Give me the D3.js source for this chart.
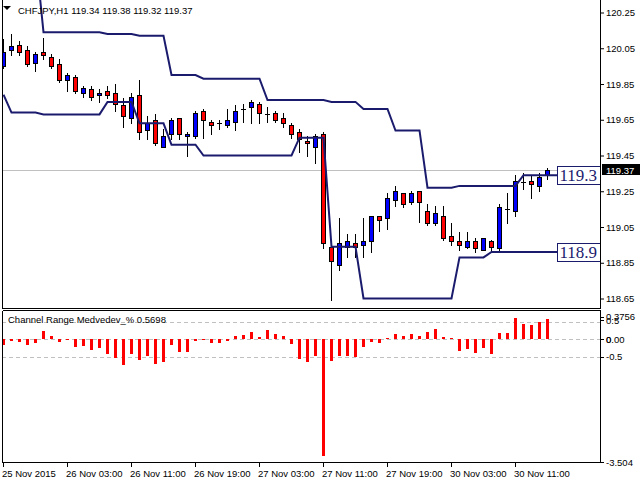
<!DOCTYPE html>
<html><head><meta charset="utf-8">
<script src="https://cdn.jsdelivr.net/npm/d3@7/dist/d3.min.js"></script>
<style>
html,body{margin:0;padding:0;background:#fff;}
svg{display:block;}
text{font-family:"Liberation Sans",Arial,sans-serif;font-size:9.5px;fill:#000;}
</style></head><body>
<svg id="c" width="640" height="480"></svg>
<script>
// ---------- data ----------
const symbol = "CHFJPY,H1";
const opens  = [119.95,120.04,120.07,120.04,119.97,120.03,120.00,119.96,119.87,119.89,119.80,119.82,119.79,119.81,119.80,119.73,119.66,119.79,119.59,119.65,119.50,119.57,119.66,119.56,119.56,119.70,119.64,119.63,119.62,119.64,119.71,119.72,119.74,119.68,119.69,119.66,119.62,119.58,119.53,119.50,119.57,118.94,118.84,118.94,118.96,118.95,118.97,119.11,119.10,119.20,119.24,119.19,119.25,119.14,119.07,119.11,119.00,118.97,118.94,118.97,118.92,118.97,118.93,119.15,119.14,119.30,119.31,119.28,119.34];
const highs  = [120.10,120.13,120.09,120.06,120.03,120.11,120.02,119.99,119.91,119.90,119.84,119.84,119.82,119.84,119.85,119.77,119.80,119.87,119.67,119.68,119.60,119.66,119.66,119.58,119.70,119.71,119.65,119.65,119.71,119.73,119.74,119.76,119.75,119.72,119.70,119.69,119.63,119.60,119.56,119.57,119.58,118.94,119.10,119.01,119.01,119.10,119.11,119.11,119.24,119.28,119.24,119.25,119.25,119.18,119.17,119.17,119.07,119.02,119.02,118.99,118.99,118.98,119.18,119.24,119.34,119.35,119.34,119.35,119.38];
const lows   = [119.94,120.01,120.01,119.95,119.92,119.99,119.94,119.86,119.81,119.80,119.78,119.76,119.75,119.77,119.70,119.61,119.63,119.54,119.54,119.51,119.50,119.54,119.54,119.45,119.55,119.55,119.57,119.60,119.61,119.59,119.64,119.63,119.63,119.64,119.64,119.61,119.55,119.47,119.45,119.41,118.93,118.64,118.81,118.88,118.88,118.88,118.91,119.03,119.04,119.17,119.16,119.18,119.08,119.06,119.06,118.98,118.95,118.92,118.93,118.91,118.92,118.91,118.92,119.07,119.11,119.26,119.21,119.25,119.32];
const closes = [120.03,120.06,120.03,119.96,120.02,120.01,119.95,119.87,119.90,119.81,119.83,119.78,119.80,119.79,119.74,119.67,119.78,119.58,119.63,119.52,119.56,119.65,119.57,119.57,119.69,119.65,119.62,119.63,119.65,119.70,119.71,119.75,119.69,119.68,119.65,119.63,119.57,119.54,119.52,119.56,118.96,118.86,118.96,118.97,118.94,118.97,119.11,119.09,119.21,119.25,119.18,119.24,119.19,119.07,119.13,118.99,118.97,118.95,118.97,118.93,118.99,118.94,119.16,119.15,119.31,119.30,119.29,119.33,119.37];
const upperChannel = [120.58,120.58,120.58,120.58,120.58,120.14,120.14,120.14,120.14,120.14,120.14,120.14,120.14,120.13,120.13,120.13,120.13,120.12,120.12,120.12,120.12,119.90,119.90,119.90,119.90,119.88,119.88,119.88,119.88,119.88,119.88,119.88,119.88,119.76,119.76,119.76,119.76,119.76,119.76,119.76,119.76,119.75,119.75,119.75,119.75,119.71,119.71,119.71,119.71,119.59,119.59,119.59,119.59,119.27,119.27,119.27,119.27,119.28,119.28,119.28,119.28,119.28,119.28,119.28,119.28,119.34,119.34,119.34,119.34];
const lowerChannel = [119.79,119.69,119.69,119.69,119.69,119.68,119.68,119.68,119.68,119.68,119.68,119.68,119.68,119.75,119.75,119.75,119.75,119.63,119.63,119.63,119.63,119.51,119.51,119.51,119.51,119.45,119.45,119.45,119.45,119.45,119.45,119.45,119.45,119.45,119.45,119.45,119.45,119.55,119.55,119.55,119.55,118.94,118.94,118.94,118.94,118.65,118.65,118.65,118.65,118.65,118.65,118.65,118.65,118.65,118.65,118.65,118.65,118.88,118.88,118.88,118.88,118.91,118.91,118.91,118.91,118.91,118.91,118.91,118.91];
const rangePct = [-0.15,-0.04,-0.09,-0.16,-0.10,0.23,0.10,-0.09,-0.02,-0.22,-0.20,-0.30,-0.25,-0.42,-0.54,-0.74,-0.42,-0.59,-0.47,-0.70,-0.65,-0.15,-0.36,-0.36,-0.04,-0.03,-0.10,-0.10,-0.04,0.10,0.13,0.21,0.07,0.27,0.15,0.10,-0.13,-0.56,-0.64,-0.48,-3.32,-0.61,-0.48,-0.48,-0.50,-0.21,-0.07,-0.10,0.04,0.15,0.10,0.15,0.10,0.21,0.30,0.07,0.04,-0.32,-0.27,-0.38,-0.24,-0.41,0.18,0.18,0.61,0.44,0.41,0.50,0.5698];
const timeLabels = ["25 Nov 2015","26 Nov 03:00","26 Nov 11:00","26 Nov 19:00","27 Nov 03:00","27 Nov 11:00","27 Nov 19:00","30 Nov 03:00","30 Nov 11:00"];
const timeLabelBars = [0,8,16,24,32,40,48,56,64];
const priceTicks = [120.25,120.05,119.85,119.65,119.45,119.25,119.05,118.85,118.65];
const indicatorName = "Channel Range Medvedev_%";
const indicatorLevels = [0.5,0,-0.5];
const indicatorMax = 0.8756, indicatorMin = -3.504;
const indicatorAxisLabels = [["0.3756",0.64],["0.5",0.54],["0.00",0],["0",0],["-0.5",-0.5],["-3.504",-3.504]];
const channelLabels = ["119.3","118.9"];

// ---------- layout ----------
const svg = d3.select("#c");
const L = 2, R = 600, mainTop = 0, mainBot = 308, indTop = 310, indBot = 462;
const navy = "#1b1b6e";
const n = closes.length;
const x = d3.scaleLinear().domain([0, n - 1]).range([3, 3 + 8 * (n - 1)]);
const y = d3.scaleLinear().domain([118.65, 120.25]).range([298.5, 12.5]);
const yi = d3.scaleLinear().domain([indicatorMin, indicatorMax]).range([indBot, indTop - 1.3]);
const px = k => Math.round(x(k));
const py = v => Math.round(y(v));

const defs = svg.append("defs");
defs.append("clipPath").attr("id","cm").append("rect").attr("x",L+1).attr("y",mainTop).attr("width",R-L-1).attr("height",mainBot-mainTop);
defs.append("clipPath").attr("id","ci").append("rect").attr("x",L+1).attr("y",indTop+1).attr("width",R-L-1).attr("height",indBot-indTop-1);

// ---------- main panel ----------
const gm = svg.append("g").attr("clip-path","url(#cm)");
const lastClose = closes[n-1];
gm.append("line").attr("x1",L).attr("x2",R).attr("y1",py(lastClose)+0.5).attr("y2",py(lastClose)+0.5)
  .attr("stroke","#c0c0c0").attr("stroke-width",1);

const candles = gm.append("g").attr("shape-rendering","crispEdges");
d3.range(n).forEach(k => {
  const cx = px(k), o = opens[k], c = closes[k];
  candles.append("line").attr("x1",cx+0.5).attr("x2",cx+0.5)
    .attr("y1",py(highs[k])).attr("y2",py(lows[k])+1).attr("stroke","#000");
  const top = py(Math.max(o,c)), bot = py(Math.min(o,c));
  if (bot - top < 1) {
    candles.append("line").attr("x1",cx-2).attr("x2",cx+3).attr("y1",top+0.5).attr("y2",top+0.5).attr("stroke","#000");
  } else {
    candles.append("rect").attr("x",cx-2+0.5).attr("y",top+0.5).attr("width",4).attr("height",bot-top)
      .attr("fill", c > o ? "#0000ff" : "#ff0000").attr("stroke","#000");
  }
});

const line = d3.line().x(d=>d[0]).y(d=>d[1]);
[upperChannel, lowerChannel].forEach((arr, i) => {
  const pts = arr.map((v,k)=>[x(k)+0.5, y(v)]);
  pts.push([557, y(arr[n-1])]);
  gm.append("path").attr("d", line(pts)).attr("fill","none").attr("stroke",navy).attr("stroke-width",2);
  const yc = Math.round(y(arr[n-1]));
  gm.append("rect").attr("x",557.5).attr("y",yc-9+0.5).attr("width",60).attr("height",18)
    .attr("fill","#fff").attr("stroke",navy).attr("stroke-width",1);
  gm.append("text").attr("x",559.5).attr("y",yc+6).text(channelLabels[i])
    .style("font-family","'Liberation Serif','Times New Roman',serif").style("font-size","17px").style("fill",navy);
});

// title
svg.append("path").attr("d","M3,6 L11,6 L7,10 Z").attr("fill","#000");
svg.append("text").attr("x",18).attr("y",14)
  .text(symbol + "  " + [opens[n-1],highs[n-1],lows[n-1],closes[n-1]].map(v=>v.toFixed(2)).join(" "));

// ---------- indicator panel ----------
const gi = svg.append("g").attr("clip-path","url(#ci)");
indicatorLevels.forEach(v => {
  gi.append("line").attr("x1",L).attr("x2",R).attr("y1",Math.round(yi(v))+0.5).attr("y2",Math.round(yi(v))+0.5)
    .attr("stroke","#c0c0c0").attr("stroke-dasharray","4,3");
});
const z0 = Math.round(yi(0));
gi.append("g").attr("shape-rendering","crispEdges").selectAll("rect").data(rangePct).join("rect")
  .attr("x",(d,k)=>px(k)-1).attr("width",3)
  .attr("y",d=> d>=0 ? Math.round(yi(d)) : z0)
  .attr("height",d=> Math.max(1, Math.abs(Math.round(yi(d)) - z0)))
  .attr("fill","#ff0000");
svg.append("text").attr("x",8).attr("y",323).text(indicatorName + " " + rangePct[n-1].toFixed(4));

// ---------- frames ----------
const fr = svg.append("g").attr("stroke","#000").attr("shape-rendering","crispEdges").attr("fill","none");
fr.append("path").attr("d",`M${L+0.5},${mainTop} V${mainBot+0.5} H${R+0.5} V${mainTop}`);
fr.append("path").attr("d",`M${L+0.5},${indTop+0.5} V${indBot+0.5} H${R+0.5} V${indTop+0.5} H${L+0.5}`);

// ---------- right axes ----------
const ax = svg.append("g").attr("transform",`translate(${R+1},0)`);
const yAxis = d3.axisRight(y).tickValues(priceTicks).tickSize(3).tickPadding(2).tickFormat(d3.format(".2f"));
ax.call(yAxis);
ax.select(".domain").remove();
ax.selectAll("text").style("font-family","'Liberation Sans',Arial,sans-serif").style("font-size","9.5px").attr("fill","#000");
ax.selectAll("line").attr("stroke","#000");

// current price tag
const yl = py(lastClose);
svg.append("rect").attr("x",R+2).attr("y",yl-6).attr("width",38).attr("height",11).attr("fill","#000");
svg.append("text").attr("x",R+6).attr("y",yl+3.5).attr("fill","#fff").style("fill","#fff").text(lastClose.toFixed(2));

// indicator axis labels
const ia = svg.append("g");
indicatorAxisLabels.forEach(([t,v]) => {
  ia.append("line").attr("x1",R+1).attr("x2",R+4).attr("y1",Math.round(yi(v))+0.5).attr("y2",Math.round(yi(v))+0.5).attr("stroke","#000");
  ia.append("text").attr("x",R+6).attr("y",yi(v)+3.5).text(t);
});

// ---------- time axis ----------
const ta = svg.append("g").attr("shape-rendering","crispEdges");
timeLabelBars.forEach((k,i) => {
  ta.append("line").attr("x1",px(k)+0.5).attr("x2",px(k)+0.5).attr("y1",indBot+1).attr("y2",indBot+5).attr("stroke","#000");
  svg.append("text").attr("x",px(k)-1).attr("y",477).text(timeLabels[i]);
});
</script>
</body></html>
